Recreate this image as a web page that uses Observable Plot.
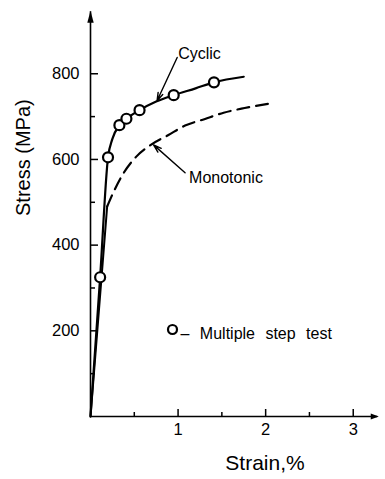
<!DOCTYPE html>
<html><head><meta charset="utf-8">
<script src="https://cdn.jsdelivr.net/npm/d3@7"></script>
<script src="https://cdn.jsdelivr.net/npm/@observablehq/plot@0.6"></script>
<style>
body{margin:0;background:#fff;}
#chart svg{font-family:"Liberation Sans",Arial,sans-serif;}
#chart .legend-text{word-spacing:6px;}
</style></head><body><div id="chart"></div>
<script>
// Cyclic stress-strain curve (fitted line)
const cyclicStrain = [0, 0.11, 0.2, 0.25, 0.33, 0.41, 0.56, 0.75, 0.95, 1.2, 1.41, 1.75];
const cyclicStress = [0, 325, 605, 648, 680, 695, 715, 735, 750, 766, 780, 793];
// Multiple step test points
const stepStrain = [0.11, 0.2, 0.33, 0.41, 0.56, 0.95, 1.41];
const stepStress = [325, 605, 680, 695, 715, 750, 780];
// Monotonic curve (elastic part solid, then dashed)
const monoStrain = [0, 0.19, 0.27, 0.38, 0.52, 0.68, 0.89, 1.08, 1.30, 1.52, 1.76, 2.03];
const monoStress = [0, 490, 527, 569, 606, 633, 657, 679, 694, 709, 720, 730];
// Annotation leaders: label end -> curve end
const seriesLabels = ["Cyclic", "Monotonic"];
const leaderFromStrain = [0.99, 1.08];
const leaderFromStress = [838, 569];
const leaderToStrain = [0.76, 0.72];
const leaderToStress = [737, 634];
// Axes
const yMajorTicks = [200, 400, 600, 800];
const yMinorTicks = [100, 300, 500, 700];
const xMajorTicks = [1, 2, 3];
const xMinorTicks = [0.5, 1.5, 2.5];
const xAxisEnd = [3.28];
const yAxisEnd = [945];
const xLabel = "Strain,%";
const yLabel = "Stress (MPa)";
const legendLabel = "– Multiple step test";

const cyclic = cyclicStrain.map((s, i) => ({strain: s, stress: cyclicStress[i]}));
const steps = stepStrain.map((s, i) => ({strain: s, stress: stepStress[i]}));
const mono = monoStrain.map((s, i) => ({strain: s, stress: monoStress[i]}));
const leaders = seriesLabels.map((l, i) => ({label: l, x1: leaderFromStrain[i], y1: leaderFromStress[i], x2: leaderToStrain[i], y2: leaderToStress[i]}));

const arrowUp = {draw(ctx) { ctx.moveTo(0, -1); ctx.lineTo(3.2, 11); ctx.lineTo(-3.2, 11); ctx.closePath(); }};
const arrowRight = {draw(ctx) { ctx.moveTo(1, 0); ctx.lineTo(-7, -3); ctx.lineTo(-7, 3); ctx.closePath(); }};

const chart = Plot.plot({
  width: 385,
  height: 479,
  marginLeft: 90,
  marginRight: 6,
  marginTop: 9,
  marginBottom: 63,
  style: {fontFamily: "Liberation Sans, Arial, sans-serif", background: "#fff", color: "#000"},
  x: {domain: [0, 3.3], axis: null},
  y: {domain: [0, 950], axis: null},
  marks: [
    // axis lines with arrowheads
    Plot.ruleX([0], {y1: 0, y2: yAxisEnd[0], stroke: "black", strokeWidth: 1.6}),
    Plot.ruleY([0], {x1: 0, x2: xAxisEnd[0], stroke: "black", strokeWidth: 1.6}),
    Plot.dot(yAxisEnd, {x: 0, y: d => d, symbol: arrowUp, fill: "black", stroke: null}),
    Plot.dot(xAxisEnd, {x: d => d, y: 0, symbol: arrowRight, fill: "black", stroke: null}),
    // ticks
    Plot.axisY(yMajorTicks, {anchor: "left", tickSize: -8, tickPadding: 19, fontSize: 16.5, strokeWidth: 1.5, label: null}),
    Plot.axisY(yMinorTicks, {anchor: "left", tickSize: -5, tickFormat: () => "", strokeWidth: 1.5, label: null}),
    Plot.axisX(xMajorTicks, {anchor: "bottom", tickSize: -7, tickPadding: 14, fontSize: 16.5, strokeWidth: 1.5, label: null}),
    Plot.axisX(xMinorTicks, {anchor: "bottom", tickSize: -4, tickFormat: () => "", strokeWidth: 1.5, label: null}),
    // axis titles
    Plot.text([xLabel], {text: d => d, frameAnchor: "bottom", dx: 30, dy: 47, lineAnchor: "middle", fontSize: 21}),
    Plot.text([yLabel], {text: d => d, frameAnchor: "left", dx: -67, dy: 3, rotate: -90, fontSize: 20}),
    // monotonic
    Plot.line(mono.slice(0, 2), {x: "strain", y: "stress", stroke: "black", strokeWidth: 2}),
    Plot.line(mono.slice(1), {x: "strain", y: "stress", stroke: "black", strokeWidth: 2.2, strokeDasharray: "12,7", curve: "monotone-x"}),
    // cyclic
    Plot.line(cyclic, {x: "strain", y: "stress", stroke: "black", strokeWidth: 2.2, curve: "monotone-x"}),
    Plot.dot(steps, {x: "strain", y: "stress", r: 5, stroke: "black", strokeWidth: 2.2, fill: "white"}),
    // leaders and labels
    Plot.arrow(leaders, {x1: "x1", y1: "y1", x2: "x2", y2: "y2", stroke: "black", strokeWidth: 1.4, headLength: 9, headAngle: 35}),
    Plot.text(leaders.slice(0, 1), {x: "x1", y: "y1", text: "label", textAnchor: "start", dx: 1, dy: -4, fontSize: 16}),
    Plot.text(leaders.slice(1), {x: "x1", y: "y1", text: "label", textAnchor: "start", dx: 4, dy: 5, fontSize: 16}),
    // legend
    Plot.dot([legendLabel], {frameAnchor: "top-left", dx: 82, dy: 320, r: 4.5, stroke: "black", strokeWidth: 2.2, fill: "white"}),
    Plot.text([legendLabel], {text: d => d, frameAnchor: "top-left", dx: 90, dy: 318, textAnchor: "start", fontSize: 16, className: "legend-text"})
  ]
});
document.getElementById("chart").append(chart);
</script></body></html>
